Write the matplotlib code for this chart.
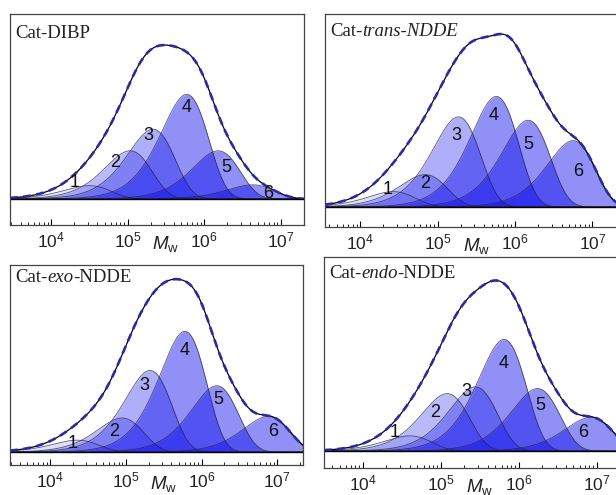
import numpy as np
import matplotlib
matplotlib.use("Agg")
import matplotlib.pyplot as plt
from matplotlib.ticker import LogLocator, NullFormatter

plt.rcParams["mathtext.fontset"] = "custom"
plt.rcParams["mathtext.rm"] = "Liberation Sans"
plt.rcParams["mathtext.it"] = "Liberation Sans:italic"

# Flory components: peak position (log10 Mw) and peak height
# (heights relative to the maximum of the whole GPC curve)
dibp_peak = [4.50, 5.03, 5.33, 5.77, 6.18, 6.63]
dibp_height = [0.08, 0.29, 0.42, 0.63, 0.29, 0.085]
trans_peak = [4.43, 4.84, 5.27, 5.76, 6.17, 6.75]
trans_height = [0.09, 0.19, 0.53, 0.65, 0.51, 0.39]
exo_peak = [4.36, 4.95, 5.32, 5.78, 6.20, 6.88]
exo_height = [0.07, 0.20, 0.48, 0.71, 0.39, 0.21]
endo_peak = [4.60, 5.08, 5.44, 5.81, 6.24, 6.92]
endo_height = [0.09, 0.34, 0.38, 0.66, 0.37, 0.20]

# where the component numbers sit (log10 Mw, height)
dibp_lab_x = [4.31, 4.83, 5.27, 5.77, 6.29, 6.83]
dibp_lab_y = [0.096, 0.22, 0.385, 0.55, 0.19, 0.035]
trans_lab_x = [4.35, 4.84, 5.24, 5.72, 6.17, 6.82]
trans_lab_y = [0.105, 0.135, 0.42, 0.54, 0.365, 0.206]
exo_lab_x = [4.30, 4.85, 5.25, 5.77, 6.22, 6.95]
exo_lab_y = [0.053, 0.12, 0.39, 0.60, 0.31, 0.12]
endo_lab_x = [4.41, 4.93, 5.33, 5.80, 6.27, 6.83]
endo_lab_y = [0.11, 0.23, 0.35, 0.52, 0.27, 0.11]

comp_labels = ["1", "2", "3", "4", "5", "6"]
tick_values = [1e4, 1e5, 1e6, 1e7]
tick_labels = [r"$10^{4}$", r"$10^{5}$", r"$10^{6}$", r"$10^{7}$"]

# title pieces: (text, italic?)
dibp_title = [("Cat-DIBP", False)]
trans_title = [("Cat-", False), ("trans-NDDE", True)]
exo_title = [("Cat-", False), ("exo", True), ("-NDDE", False)]
endo_title = [("Cat-", False), ("endo", True), ("-NDDE", False)]

comp_alpha = [0.13, 0.28, 0.33, 0.45, 0.45, 0.45]
FILL = (0.04, 0.04, 0.93)

W, H = 616, 495


def flory(logm, peak, h):
    r = 10 ** (logm - peak)
    return h * r ** 2 * np.exp(2 - 2 * r)


def px_rect(left, top, right, bottom):
    return [left / W, (H - bottom) / H, (right - left) / W, (bottom - top) / H]


def draw_panel(fig, rect, xlim, ylim, peaks, heights, lab_x, lab_y, title, title_dy):
    ax = fig.add_axes(rect)
    logm = np.linspace(np.log10(xlim[0]), np.log10(xlim[1]), 800)
    m = 10 ** logm
    total = np.zeros_like(logm)
    for p, h, a in zip(peaks, heights, comp_alpha):
        y = flory(logm, p, h)
        total += y
        ax.fill_between(m, 0, y, color=FILL, alpha=a, lw=0)
        ax.plot(m, y, color="#202040", lw=0.6, alpha=0.75)
    ax.plot(m, total, color="k", lw=0.9)
    ax.plot(m, total, color="#2a2aa8", lw=1.9, ls=(0, (3, 2)))
    ax.axhline(0, color="k", lw=1.0)

    for lx, ly, t in zip(lab_x, lab_y, comp_labels):
        ax.text(10 ** lx, ly, t, ha="center", va="center", fontsize=13,
                family="Liberation Sans", color="#111111")

    ax.set_xscale("log")
    ax.set_xlim(*xlim)
    ax.set_ylim(*ylim)
    ax.set_yticks([])
    ax.set_xticks(tick_values)
    ax.set_xticklabels(tick_labels)
    ax.xaxis.set_minor_locator(LogLocator(base=10, subs=np.arange(2, 10)))
    ax.xaxis.set_minor_formatter(NullFormatter())
    ax.tick_params(axis="x", which="major", direction="in", length=4, width=0.8,
                   labelsize=12.5, labelcolor="#222222", pad=5, top=False)
    ax.tick_params(axis="x", which="minor", direction="in", length=2.5, width=0.6, top=False)
    for s in ax.spines.values():
        s.set_color("#444444")
        s.set_linewidth(0.9)

    ax.annotate(r"$M_{\mathrm{w}}$", xy=(10 ** 5.5, 0), xycoords=("data", "axes fraction"),
                xytext=(0, -14), textcoords="offset points", ha="center", va="center",
                fontsize=13.5, color="#222222")

    prev = None
    for txt, ital in title:
        style = "italic" if ital else "normal"
        if prev is None:
            prev = ax.annotate(txt, xy=(0, 1), xycoords="axes fraction",
                               xytext=(5, -title_dy), textcoords="offset pixels",
                               ha="left", va="center", fontsize=13.5,
                               family="Liberation Serif", style=style, color="#222222")
        else:
            prev = ax.annotate(txt, xy=(1, 0), xycoords=prev, ha="left", va="bottom",
                               fontsize=13.5, family="Liberation Serif", style=style,
                               color="#222222")
    return ax


fig = plt.figure(figsize=(W / 100, H / 100), dpi=100)

draw_panel(fig, px_rect(10, 14, 304, 225), (10 ** 3.465, 10 ** 7.30), (-0.157, 1.114),
           dibp_peak, dibp_height, dibp_lab_x, dibp_lab_y, dibp_title, 19)
draw_panel(fig, px_rect(325, 14, 628, 227), (10 ** 3.547, 10 ** 7.46), (-0.118, 1.135),
           trans_peak, trans_height, trans_lab_x, trans_lab_y, trans_title, 18)
draw_panel(fig, px_rect(10, 265, 303, 465), (10 ** 3.47, 10 ** 7.34), (-0.076, 1.10),
           exo_peak, exo_height, exo_lab_x, exo_lab_y, exo_title, 12)
draw_panel(fig, px_rect(324, 257, 628, 468), (10 ** 3.50, 10 ** 7.40), (-0.10, 1.148),
           endo_peak, endo_height, endo_lab_x, endo_lab_y, endo_title, 16)

fig.savefig("out.png", dpi=100)
